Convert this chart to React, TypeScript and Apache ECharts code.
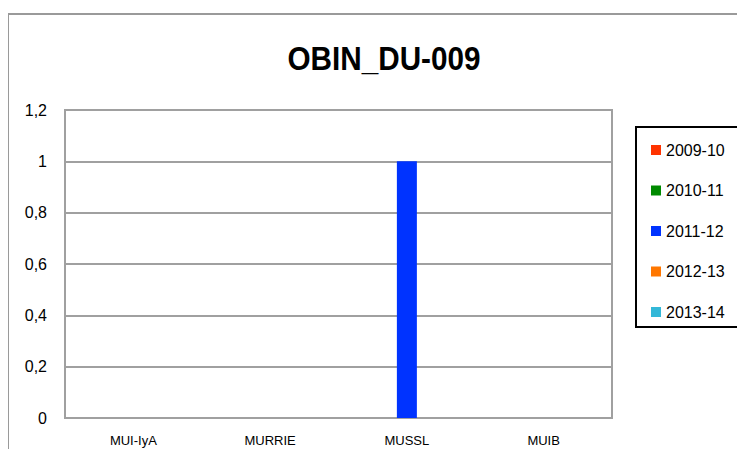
import React, { useEffect, useRef } from "react";
import * as echarts from "echarts";

const title = "OBIN_DU-009";
const categories = ["MUI-IyA", "MURRIE", "MUSSL", "MUIB"];
const seriesNames = ["2009-10", "2010-11", "2011-12", "2012-13", "2013-14"];
const seriesColors = ["#FF3300", "#008A00", "#0033FF", "#FF7700", "#33B8D8"];
const values2009 = [0, 0, 0, 0];
const values2010 = [0, 0, 0, 0];
const values2011 = [0, 0, 1, 0];
const values2012 = [0, 0, 0, 0];
const values2013 = [0, 0, 0, 0];
const seriesValues = [values2009, values2010, values2011, values2012, values2013];
const yMin = 0;
const yMax = 1.2;
const yInterval = 0.2;

const FONT = "'Liberation Sans', Arial, sans-serif";

export default function App() {
  const ref = useRef<HTMLDivElement>(null);
  useEffect(() => {
    if (!ref.current) return;
    const chart = echarts.init(ref.current, null, { renderer: "svg" });
    const gridLeft = 65;
    const gridTop = 110;
    const gridRight = 745 - 612;
    const gridBottom = 457 - 418;
    chart.setOption({
      animation: false,
      backgroundColor: "#ffffff",
      graphic: [
        {
          type: "rect",
          shape: { x: 8, y: 14, width: 760, height: 460 },
          style: { fill: "none", stroke: "#9a9a9a", lineWidth: 2 },
          z: 0,
        },
        {
          type: "rect",
          shape: { x: gridLeft, y: gridTop, width: 745 - gridRight - gridLeft, height: 457 - gridBottom - gridTop },
          style: { fill: "none", stroke: "#a0a0a0", lineWidth: 2 },
          z: 1,
        },
        {
          type: "rect",
          shape: { x: 636, y: 127, width: 105, height: 200 },
          style: { fill: "#fff", stroke: "#000", lineWidth: 2 },
          z: 1,
        },
        {
          type: "text",
          x: 384,
          y: 59,
          scaleX: 0.9,
          style: {
            text: title,
            fontFamily: FONT,
            fontSize: 33,
            fontWeight: "bold",
            fill: "#000",
            align: "center",
            verticalAlign: "middle",
          },
          z: 5,
        },
      ],
      legend: {
        orient: "vertical",
        left: 646,
        top: 137,
        itemWidth: 10,
        itemHeight: 10,
        itemGap: 24.5,
        icon: "rect",
        data: seriesNames,
        textStyle: { fontFamily: FONT, fontSize: 16, color: "#000" },
        z: 5,
      },
      grid: { left: gridLeft, top: gridTop, right: gridRight, bottom: gridBottom },
      xAxis: {
        type: "category",
        data: categories,
        axisLine: { lineStyle: { color: "#a0a0a0", width: 2 } },
        axisTick: { inside: true, length: 4, lineStyle: { color: "#a0a0a0", width: 1 } },
        axisLabel: { fontFamily: FONT, fontSize: 13, color: "#000", margin: 16 },
      },
      yAxis: {
        type: "value",
        min: yMin,
        max: yMax,
        interval: yInterval,
        axisLine: { show: true, lineStyle: { color: "#a0a0a0", width: 2 } },
        axisTick: { show: false },
        splitLine: { lineStyle: { color: "#a0a0a0", width: 2 } },
        axisLabel: {
          fontFamily: FONT,
          fontSize: 16,
          color: "#000",
          margin: 18,
          formatter: (v: number) => String(Math.round(v * 10) / 10).replace(".", ","),
        },
      },
      series: seriesNames.map((name, i) => ({
        name,
        type: "bar",
        data: seriesValues[i],
        barWidth: 20,
        barGap: "0%",
        itemStyle: { color: seriesColors[i] },
      })),
    });
    return () => chart.dispose();
  }, []);
  return <div ref={ref} style={{ width: 745, height: 457, margin: -8 }} />;
}
